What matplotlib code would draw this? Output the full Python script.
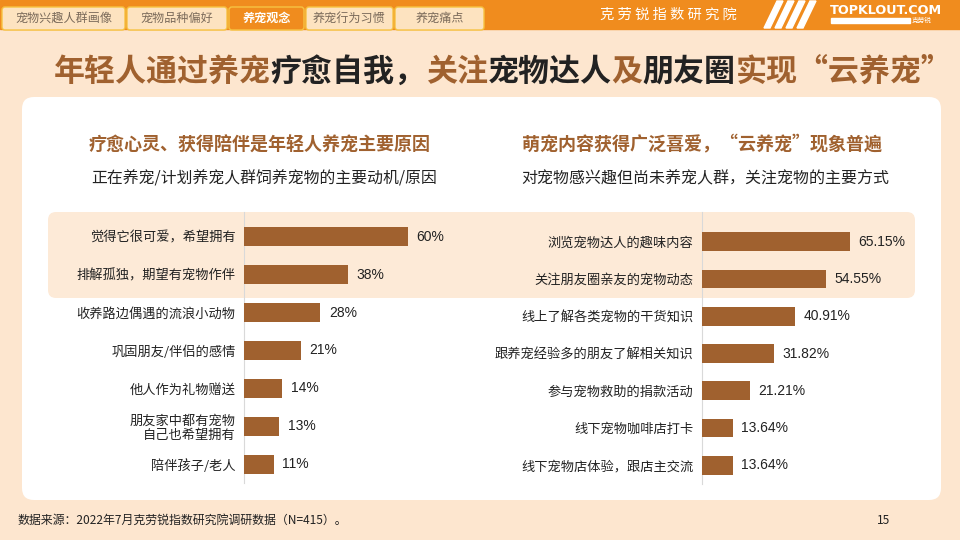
import matplotlib
matplotlib.use("Agg")
import matplotlib.pyplot as plt
from matplotlib.patches import FancyBboxPatch, Rectangle, Polygon

plt.rcParams['font.family'] = ['Noto Sans CJK SC', 'DejaVu Sans']

# ---------------- data ----------------
left_labels = ["觉得它很可爱，希望拥有", "排解孤独，期望有宠物作伴", "收养路边偶遇的流浪小动物",
               "巩固朋友/伴侣的感情", "他人作为礼物赠送", "朋友家中都有宠物\n自己也希望拥有", "陪伴孩子/老人"]
left_values = [60, 38, 28, 21, 14, 13, 11]
left_texts = ["60%", "38%", "28%", "21%", "14%", "13%", "11%"]

right_labels = ["浏览宠物达人的趣味内容", "关注朋友圈亲友的宠物动态", "线上了解各类宠物的干货知识",
                "跟养宠经验多的朋友了解相关知识", "参与宠物救助的捐款活动", "线下宠物咖啡店打卡",
                "线下宠物店体验，跟店主交流"]
right_values = [65.15, 54.55, 40.91, 31.82, 21.21, 13.64, 13.64]
right_texts = ["65.15%", "54.55%", "40.91%", "31.82%", "21.21%", "13.64%", "13.64%"]

tabs = ["宠物兴趣人群画像", "宠物品种偏好", "养宠观念", "养宠行为习惯", "养宠痛点"]
active_tab = 2

BROWN = "#A0612F"
DARK = "#222222"
ORANGE = "#F08C1E"

W, H = 960, 540
fig = plt.figure(figsize=(W / 100, H / 100), dpi=100)
fig.patch.set_facecolor("#FDE6CF")

bg = fig.add_axes([0, 0, 1, 1])
bg.set_xlim(0, W)
bg.set_ylim(H, 0)
bg.axis("off")

# header bar
bg.add_patch(Rectangle((0, 0), W, 29, color=ORANGE, zorder=1))
tab_x = [2, 127, 229, 306, 395]
tab_w = [123, 100, 75, 87, 89]
for i, (t, x, w) in enumerate(zip(tabs, tab_x, tab_w)):
    fc = ORANGE if i == active_tab else "#FDE3C0"
    bg.add_patch(FancyBboxPatch((x, 7), w, 23, boxstyle="round,pad=0,rounding_size=3",
                                fc=fc, ec="#F6C343", lw=1, zorder=2))
    bg.text(x + w / 2, 18.5, t, ha="center", va="center", fontsize=8.7,
            color="white" if i == active_tab else "#7a6a5a",
            fontweight="bold" if i == active_tab else "normal", zorder=3)
bg.text(668, 15, "克 劳 锐 指 数 研 究 院", ha="center", va="center", fontsize=10.3, color="white", zorder=3)
for k in range(4):
    x0 = 764 + k * 11
    bg.add_patch(Polygon([[x0, 28], [x0 + 6, 28], [x0 + 19, 1], [x0 + 13, 1]], color="white", zorder=3))
bg.text(886, 10.5, "TOPKLOUT.COM", ha="center", va="center", fontsize=9.2, color="white",
        fontweight="bold", family=["DejaVu Sans"], zorder=3)
bg.add_patch(Rectangle((831, 18), 79, 4.5, color="white", zorder=3))
bg.text(922, 20.5, "克劳锐", ha="center", va="center", fontsize=4.8, color="white", zorder=3)

# main title
segments = [("年轻人通过养宠", BROWN), ("疗愈自我，", DARK), ("关注", BROWN), ("宠物达人", DARK),
            ("及", BROWN), ("朋友圈", DARK), ("实现“云养宠”", BROWN)]
fig.canvas.draw()
renderer = fig.canvas.get_renderer()
widths = []
objs = []
for s, c in segments:
    t = bg.text(0, 72, s, ha="left", va="center", fontsize=22.3, fontweight="bold", color=c, zorder=3)
    objs.append(t)
    widths.append(t.get_window_extent(renderer).width)
total = sum(widths)
x = 503 - total / 2
for t, w in zip(objs, widths):
    t.set_x(x)
    x += w

# white panel
bg.add_patch(FancyBboxPatch((22, 97), 919, 403, boxstyle="round,pad=0,rounding_size=12",
                            fc="white", ec="none", zorder=1))
# highlight band
bg.add_patch(FancyBboxPatch((48, 212), 867, 86, boxstyle="round,pad=0,rounding_size=8",
                            fc="#FDEAD7", ec="none", zorder=1.5))
# axis lines
bg.plot([244, 244], [212, 483], color="#d9d9d9", lw=0.8, zorder=2)
bg.plot([702, 702], [212, 484], color="#d9d9d9", lw=0.8, zorder=2)

# sub titles
bg.text(260, 145, "疗愈心灵、获得陪伴是年轻人养宠主要原因", ha="center", va="center",
        fontsize=13, fontweight="bold", color=BROWN, zorder=3)
bg.text(264, 179, "正在养宠/计划养宠人群饲养宠物的主要动机/原因", ha="center", va="center",
        fontsize=11.4, color=DARK, zorder=3)
bg.text(702, 145, "萌宠内容获得广泛喜爱，“云养宠”现象普遍", ha="center", va="center",
        fontsize=13, fontweight="bold", color=BROWN, zorder=3)
bg.text(705, 179, "对宠物感兴趣但尚未养宠人群，关注宠物的主要方式", ha="center", va="center",
        fontsize=11.5, color=DARK, zorder=3)

# footer
bg.text(18, 520, "数据来源：2022年7月克劳锐指数研究院调研数据（N=415）。", ha="left", va="center",
        fontsize=8.6, color=DARK, zorder=3)
bg.text(884, 520, "15", ha="center", va="center", fontsize=8.6, color=DARK, zorder=3)


def px_axes(x, y, w, h):
    return fig.add_axes([x / W, 1 - (y + h) / H, w / W, h / H])


def bar_chart(ax, labels, values, texts, xmax, label_offset_px):
    n = len(values)
    ax.set_facecolor("none")
    ax.barh(range(n), values, height=0.5, color="#A0612F", zorder=3)
    ax.set_xlim(0, xmax)
    ax.set_ylim(n - 0.5, -0.5)
    for s in ["top", "right", "bottom", "left"]:
        ax.spines[s].set_visible(False)
    ax.set_xticks([])
    ax.set_yticks(range(n))
    ax.set_yticklabels(labels, fontsize=9.5, color=DARK, linespacing=1.1)
    ax.tick_params(axis="y", length=0, pad=label_offset_px)
    for i, (v, t) in enumerate(zip(values, texts)):
        ax.annotate(t, (v, i), xytext=(6, 0), textcoords="offset points", ha="left",
                    va="center", fontsize=10, color=DARK,
                    family=["Liberation Sans", "DejaVu Sans"])


axL = px_axes(244, 218, 226, 265)
bar_chart(axL, left_labels, left_values, left_texts, 226 / 2.73, 6)
axR = px_axes(702, 223, 228, 261)
bar_chart(axR, right_labels, right_values, right_texts, 228 / 2.27, 6)

fig.savefig("out.png", dpi=100, facecolor=fig.get_facecolor())
